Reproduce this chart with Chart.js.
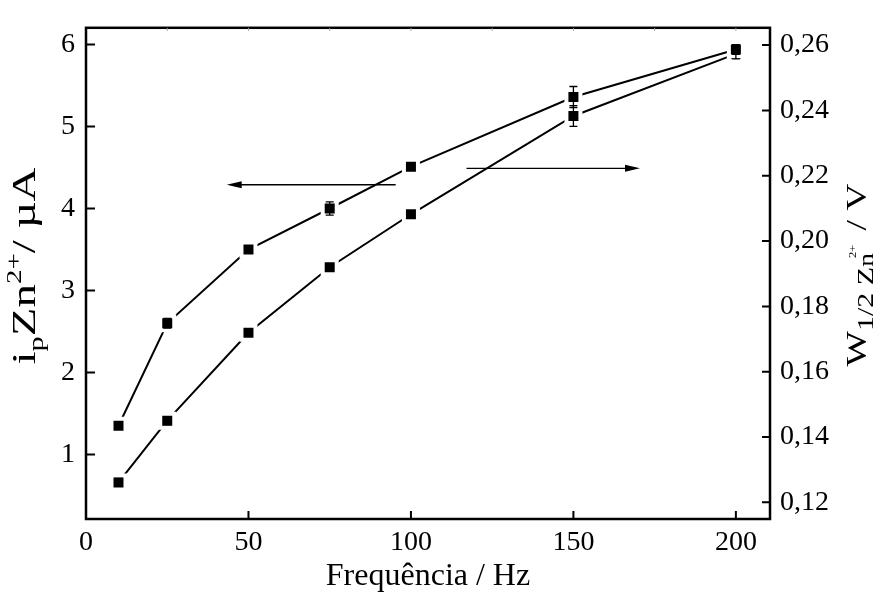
<!DOCTYPE html>
<html>
<head>
<meta charset="utf-8">
<script src="https://cdn.jsdelivr.net/npm/chart.js@4.4.1/dist/chart.umd.min.js"></script>
<style>
  html, body { margin: 0; padding: 0; background: #fff; }
  canvas { display: block; }
</style>
</head>
<body>
<canvas id="freqChart" width="892" height="595"></canvas>
<script>
// frequências (Hz)
var freq = [10, 25, 50, 75, 100, 150, 200];
// corrente de pico ip Zn2+ (µA) - eixo esquerdo
var ipZn = [1.35, 2.60, 3.50, 4.00, 4.51, 5.36, 5.94];
var ipErr = [0.03, 0.06, 0.03, 0.08, 0.03, 0.128, 0.06];
// largura de meia altura W1/2 (V) - eixo direito
var wHalf = [0.1261, 0.1450, 0.1719, 0.1920, 0.2082, 0.2383, 0.2573];
var wErr = [0.0012, 0.0012, 0.0008, 0.0008, 0.0008, 0.0032, 0.0015];

var xTicks = [0, 50, 100, 150, 200];
var xMinorTicks = [25, 50, 75, 100, 125, 150, 175, 200];
var leftTicks = [1, 2, 3, 4, 5, 6];
var rightTicks = [0.12, 0.14, 0.16, 0.18, 0.20, 0.22, 0.24, 0.26];

var serif = "'Liberation Serif', 'Times New Roman', serif";

function pts(ys) {
  return freq.map(function (x, i) { return { x: x, y: ys[i] }; });
}

function setTicks(list) {
  return function (scale) {
    scale.ticks = list.map(function (v) { return { value: v }; });
  };
}

// moldura e marcas de escala voltadas para dentro
var framePlugin = {
  id: 'frame',
  afterDatasetsDraw: function (chart) {
    var ctx = chart.ctx, a = chart.chartArea;
    var sx = chart.scales.x, sl = chart.scales.yL, sr = chart.scales.yR;
    ctx.save();
    ctx.strokeStyle = '#000';
    ctx.lineWidth = 2.5;
    ctx.strokeRect(a.left, a.top, a.right - a.left, a.bottom - a.top);
    ctx.lineWidth = 2;
    ctx.beginPath();
    leftTicks.forEach(function (v) {
      var y = sl.getPixelForValue(v);
      ctx.moveTo(a.left, y); ctx.lineTo(a.left + 9, y);
    });
    rightTicks.forEach(function (v) {
      var y = sr.getPixelForValue(v);
      ctx.moveTo(a.right, y); ctx.lineTo(a.right - 8, y);
    });
    xTicks.forEach(function (v) {
      if (v === 0) return;
      var x = sx.getPixelForValue(v);
      ctx.moveTo(x, a.bottom); ctx.lineTo(x, a.bottom - 8);
    });
    ctx.stroke();
    ctx.strokeStyle = '#999';
    ctx.lineWidth = 1;
    ctx.beginPath();
    xMinorTicks.forEach(function (v) {
      var x = sx.getPixelForValue(v);
      ctx.moveTo(x, a.top); ctx.lineTo(x, a.top + 3);
    });
    ctx.stroke();
    ctx.restore();
  }
};

// barras de erro
var errorBarPlugin = {
  id: 'errorBars',
  afterDatasetsDraw: function (chart) {
    var ctx = chart.ctx;
    ctx.save();
    ctx.strokeStyle = '#000';
    ctx.lineWidth = 1.3;
    chart.data.datasets.forEach(function (ds) {
      var sx = chart.scales.x, sy = chart.scales[ds.yAxisID];
      ds.data.forEach(function (p, i) {
        var e = ds.errors[i];
        var x = sx.getPixelForValue(p.x);
        var y1 = sy.getPixelForValue(p.y - e), y2 = sy.getPixelForValue(p.y + e);
        ctx.beginPath();
        ctx.moveTo(x, y1); ctx.lineTo(x, y2);
        ctx.moveTo(x - 4, y1); ctx.lineTo(x + 4, y1);
        ctx.moveTo(x - 4, y2); ctx.lineTo(x + 4, y2);
        ctx.stroke();
      });
    });
    ctx.restore();
  }
};

// setas indicando o eixo de cada curva (coordenadas em Hz / µA)
var arrows = [
  { from: [95.3, 4.29], to: [43.3, 4.29] },
  { from: [117.1, 4.49], to: [170.5, 4.49] }
];
var arrowPlugin = {
  id: 'arrows',
  afterDatasetsDraw: function (chart) {
    var ctx = chart.ctx, sx = chart.scales.x, sy = chart.scales.yL;
    ctx.save();
    ctx.strokeStyle = '#000';
    ctx.fillStyle = '#000';
    ctx.lineWidth = 1.4;
    arrows.forEach(function (ar) {
      var x1 = sx.getPixelForValue(ar.from[0]), y1 = sy.getPixelForValue(ar.from[1]);
      var x2 = sx.getPixelForValue(ar.to[0]), y2 = sy.getPixelForValue(ar.to[1]);
      var dir = x2 > x1 ? 1 : -1;
      ctx.beginPath();
      ctx.moveTo(x1, y1); ctx.lineTo(x2 - dir * 10, y2);
      ctx.stroke();
      ctx.beginPath();
      ctx.moveTo(x2, y2);
      ctx.lineTo(x2 - dir * 15, y2 - 3.5);
      ctx.lineTo(x2 - dir * 15, y2 + 3.5);
      ctx.closePath();
      ctx.fill();
    });
    ctx.restore();
  }
};

// títulos dos eixos com índices e expoentes
function drawRich(ctx, parts, x, y, rot, stretch) {
  ctx.save();
  ctx.translate(x, y);
  ctx.rotate(rot);
  ctx.scale(stretch || 1, 1);
  ctx.textBaseline = 'alphabetic';
  ctx.fillStyle = '#000';
  var total = 0;
  parts.forEach(function (p) {
    ctx.font = p.size + 'px ' + serif;
    p.w = ctx.measureText(p.text).width;
    total += p.w + (p.dx || 0);
  });
  var cx = -total / 2;
  parts.forEach(function (p) {
    ctx.font = p.size + 'px ' + serif;
    cx += p.dx || 0;
    ctx.fillText(p.text, cx, p.dy || 0);
    cx += p.w;
  });
  ctx.restore();
}

var titlePlugin = {
  id: 'axisTitles',
  afterDraw: function (chart) {
    var ctx = chart.ctx, a = chart.chartArea;
    drawRich(ctx, [{ text: 'Frequência / Hz', size: 32 }], (a.left + a.right) / 2, 585, 0);
    drawRich(ctx, [
      { text: 'i', size: 34 },
      { text: 'p', size: 22, dy: 8 },
      { text: 'Zn', size: 34 },
      { text: '2+', size: 21, dy: -14 },
      { text: '/ µA', size: 34 }
    ], 35, 266, -Math.PI / 2, 1.38);
    drawRich(ctx, [
      { text: 'W', size: 30 },
      { text: '1/2 Z', size: 24, dy: 7 },
      { text: 'n', size: 22, dy: 7 },
      { text: '2+', size: 10, dy: -10, dx: -4 },
      { text: ' / V', size: 30, dx: 4 }
    ], 866, 275, -Math.PI / 2, 1.25);
  }
};

var ctx = document.getElementById('freqChart').getContext('2d');
new Chart(ctx, {
  type: 'line',
  data: {
    datasets: [{
      label: 'ip Zn2+',
      data: pts(ipZn),
      errors: ipErr,
      yAxisID: 'yL',
      borderColor: '#000',
      borderWidth: 2,
      pointStyle: 'rect',
      pointRadius: 9.9,
      pointBackgroundColor: '#000',
      pointBorderColor: '#fff',
      pointBorderWidth: 4,
      tension: 0
    }, {
      label: 'W1/2',
      data: pts(wHalf),
      errors: wErr,
      yAxisID: 'yR',
      borderColor: '#000',
      borderWidth: 2,
      pointStyle: 'rect',
      pointRadius: 9.9,
      pointBackgroundColor: '#000',
      pointBorderColor: '#fff',
      pointBorderWidth: 4,
      tension: 0
    }]
  },
  options: {
    responsive: false,
    animation: false,
    layout: { padding: { top: 11, left: 0, right: 0, bottom: 0 } },
    plugins: {
      legend: { display: false },
      tooltip: { enabled: false }
    },
    scales: {
      x: {
        type: 'linear',
        min: 0,
        max: 210.5,
        afterBuildTicks: setTicks(xTicks),
        afterFit: function (s) { s.height = 76; },
        grid: { display: false, drawTicks: false },
        border: { display: false },
        ticks: {
          padding: 7,
          color: '#000',
          maxRotation: 0,
          font: { family: serif, size: 28 }
        }
      },
      yL: {
        type: 'linear',
        position: 'left',
        min: 0.213,
        max: 6.204,
        afterBuildTicks: setTicks(leftTicks),
        afterFit: function (s) { s.width = 86; },
        grid: { display: false, drawTicks: false },
        border: { display: false },
        ticks: {
          padding: 11,
          color: '#000',
          font: { family: serif, size: 28 }
        }
      },
      yR: {
        type: 'linear',
        position: 'right',
        min: 0.1149,
        max: 0.2653,
        afterBuildTicks: setTicks(rightTicks),
        afterFit: function (s) { s.width = 122; },
        grid: { display: false, drawTicks: false },
        border: { display: false },
        ticks: {
          padding: 10,
          color: '#000',
          font: { family: serif, size: 28 },
          callback: function (v) { return v.toFixed(2).replace('.', ','); }
        }
      }
    }
  },
  plugins: [framePlugin, errorBarPlugin, arrowPlugin, titlePlugin]
});
</script>
</body>
</html>
